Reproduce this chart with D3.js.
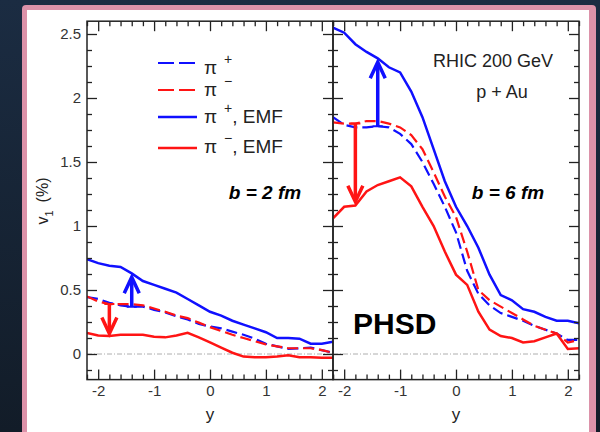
<!DOCTYPE html>
<html>
<head>
<meta charset="utf-8">
<script src="https://cdn.jsdelivr.net/npm/d3@7"></script>
<style>
  body { margin: 0; background: #16222f; }
  svg { display: block; font-family: "Liberation Sans", Arial, sans-serif; }
</style>
</head>
<body>
<div id="chart"></div>
<script>
// rapidity bins (y)
const rapidity = [-2.2, -2.0, -1.8, -1.6, -1.4, -1.2, -1.0, -0.8, -0.6, -0.4, -0.2, 0.0,
                  0.2, 0.4, 0.6, 0.8, 1.0, 1.2, 1.4, 1.6, 1.8, 2.0, 2.2];

// v1 (%) for b = 2 fm
const b2PiPlus     = [0.445, 0.43, 0.40, 0.38, 0.37, 0.37, 0.345, 0.325, 0.295, 0.27, 0.235, 0.215,
                      0.20, 0.175, 0.15, 0.12, 0.08, 0.06, 0.04, 0.045, 0.05, 0.03, 0.01];
const b2PiMinus    = [0.45, 0.41, 0.39, 0.39, 0.39, 0.38, 0.355, 0.33, 0.30, 0.28, 0.245, 0.21,
                      0.18, 0.15, 0.125, 0.10, 0.075, 0.06, 0.045, 0.045, 0.045, 0.03, 0.01];
const b2PiPlusEMF  = [0.74, 0.71, 0.69, 0.68, 0.63, 0.57, 0.54, 0.51, 0.48, 0.43, 0.38, 0.33,
                      0.30, 0.26, 0.23, 0.20, 0.17, 0.125, 0.125, 0.12, 0.08, 0.08, 0.095];
const b2PiMinusEMF = [0.165, 0.145, 0.14, 0.15, 0.15, 0.15, 0.135, 0.13, 0.145, 0.165, 0.13, 0.09,
                      0.05, 0.01, -0.02, -0.025, -0.025, -0.02, -0.01, -0.025, -0.025, -0.03, -0.03];

// v1 (%) for b = 6 fm
const b6PiPlus     = [1.85, 1.79, 1.77, 1.77, 1.78, 1.77, 1.72, 1.64, 1.50, 1.33, 1.15, 0.95,
                      0.65, 0.47, 0.38, 0.32, 0.29, 0.26, 0.22, 0.19, 0.16, 0.11, 0.11];
const b6PiMinus    = [1.81, 1.80, 1.80, 1.82, 1.82, 1.80, 1.77, 1.71, 1.60, 1.42, 1.23, 1.07,
                      0.80, 0.50, 0.42, 0.37, 0.32, 0.27, 0.22, 0.19, 0.16, 0.09, 0.11];
const b6PiPlusEMF  = [2.55, 2.51, 2.42, 2.36, 2.31, 2.24, 2.20, 2.05, 1.85, 1.60, 1.35, 1.15,
                      1.00, 0.83, 0.62, 0.46, 0.42, 0.35, 0.33, 0.29, 0.26, 0.26, 0.24];
const b6PiMinusEMF = [1.06, 1.15, 1.16, 1.27, 1.32, 1.35, 1.38, 1.31, 1.15, 1.00, 0.80, 0.62,
                      0.54, 0.33, 0.19, 0.14, 0.125, 0.09, 0.10, 0.13, 0.16, 0.04, 0.045];

// arrows: rapidity, v1 start, v1 end
const b2Arrows = [{charge: "minus", y: -1.8, from: 0.39, to: 0.16},
                  {charge: "plus",  y: -1.4, from: 0.37, to: 0.60}];
const b6Arrows = [{charge: "minus", y: -1.8, from: 1.80, to: 1.19},
                  {charge: "plus",  y: -1.4, from: 1.78, to: 2.28}];

const xTicks = [-2, -1, 0, 1, 2];
const yTicks = [0, 0.5, 1, 1.5, 2, 2.5];
const legendLabels = [
  {sup: "+", emf: false, series: "plus"},
  {sup: "\u2212", emf: false, series: "minus"},
  {sup: "+", emf: true, series: "plus"},
  {sup: "\u2212", emf: true, series: "minus"}
];

const W = 600, H = 432;
const colors = {plus: "#1010ff", minus: "#ff1414"};

const svg = d3.select("#chart").append("svg")
  .attr("width", W).attr("height", H);

// background + frame
const defs = svg.append("defs");
const grad = defs.append("linearGradient").attr("id", "bg").attr("x1", 0).attr("y1", 0).attr("x2", 0).attr("y2", 1);
grad.append("stop").attr("offset", 0).attr("stop-color", "#1b2c42");
grad.append("stop").attr("offset", 1).attr("stop-color", "#121c28");
svg.append("rect").attr("width", W).attr("height", H).attr("fill", "url(#bg)");
svg.append("rect").attr("x", 22).attr("y", 5).attr("width", 574).attr("height", 460)
  .attr("rx", 4).attr("fill", "#dc92a9");
svg.append("rect").attr("x", 27).attr("y", 10).attr("width", 562).attr("height", 450)
  .attr("fill", "#ffffff");

// scales
const plotTop = 21.2, plotBottom = 379.6;
const y = d3.scaleLinear().domain([-0.2, 2.6]).range([plotBottom, plotTop]);
const xLeft = d3.scaleLinear().domain([-2.2, 2.2]).range([87, 333]);
const xRight = d3.scaleLinear().domain([-2.2, 2.2]).range([333, 579]);

const yMinor = d3.range(-0.125, 2.6, 0.125).filter(v => !yTicks.includes(v));
const xMinor = d3.range(-22, 23, 2).map(v => v / 10).filter(v => !Number.isInteger(v));

const panels = [
  {x: xLeft, plus: b2PiPlus, minus: b2PiMinus, plusEMF: b2PiPlusEMF, minusEMF: b2PiMinusEMF,
   arrows: b2Arrows, label: "b = 2 fm", labelX: 265},
  {x: xRight, plus: b6PiPlus, minus: b6PiMinus, plusEMF: b6PiPlusEMF, minusEMF: b6PiMinusEMF,
   arrows: b6Arrows, label: "b = 6 fm", labelX: 508}
];

function styleAxis(g) {
  g.select(".domain").remove();
  g.selectAll("line").attr("stroke", "#222").attr("stroke-width", 1.3);
  g.selectAll("text").attr("fill", "#333").attr("font-size", 15)
    .attr("font-family", "'Liberation Sans', Arial, sans-serif");
}

panels.forEach((p, i) => {
  const x = p.x;
  const [x0, x1] = x.range();
  const clipId = "clip" + i;
  defs.append("clipPath").attr("id", clipId)
    .append("rect").attr("x", x0).attr("y", plotTop).attr("width", x1 - x0).attr("height", plotBottom - plotTop);

  // zero line
  svg.append("line")
    .attr("x1", x0).attr("x2", x1).attr("y1", y(0)).attr("y2", y(0))
    .attr("stroke", "#999").attr("stroke-width", 0.8).attr("stroke-dasharray", "5,2,1,2");

  const g = svg.append("g").attr("clip-path", `url(#${clipId})`);
  const line = d3.line().x((d, j) => x(rapidity[j])).y(d => y(d));

  const series = [
    {data: p.plus, c: colors.plus, dash: "11,5", w: 2.2},
    {data: p.minus, c: colors.minus, dash: "11,5", w: 2.2},
    {data: p.plusEMF, c: colors.plus, dash: null, w: 2.5},
    {data: p.minusEMF, c: colors.minus, dash: null, w: 2.5}
  ];
  g.selectAll("path.series").data(series).join("path")
    .attr("class", "series")
    .attr("d", d => line(d.data))
    .attr("fill", "none")
    .attr("stroke", d => d.c)
    .attr("stroke-width", d => d.w)
    .attr("stroke-dasharray", d => d.dash);

  // arrows
  p.arrows.forEach(a => {
    const ax = x(a.y), ya = y(a.from), yb = y(a.to);
    const dir = yb > ya ? 1 : -1;
    const c = colors[a.charge];
    g.append("line").attr("x1", ax).attr("x2", ax).attr("y1", ya).attr("y2", yb - dir * 1.5)
      .attr("stroke", c).attr("stroke-width", 3.5);
    g.append("line").attr("x1", ax - 5).attr("x2", ax + 5).attr("y1", ya).attr("y2", ya)
      .attr("stroke", c).attr("stroke-width", 2);
    g.append("polyline")
      .attr("points", `${ax - 7.5},${yb - dir * 16} ${ax},${yb} ${ax + 7.5},${yb - dir * 16}`)
      .attr("fill", "none").attr("stroke", c).attr("stroke-width", 3.5)
      .attr("stroke-linejoin", "miter");
  });

  // frame
  svg.append("rect").attr("x", x0).attr("y", plotTop).attr("width", x1 - x0).attr("height", plotBottom - plotTop)
    .attr("fill", "none").attr("stroke", "#222").attr("stroke-width", 1.5);

  // x axes (bottom / top)
  svg.append("g").attr("transform", `translate(0,${plotBottom})`)
    .call(d3.axisBottom(x).tickValues(xTicks).tickSize(-10).tickPadding(6).tickFormat(d => String(d)))
    .call(styleAxis);
  svg.append("g").attr("transform", `translate(0,${plotBottom})`)
    .call(d3.axisBottom(x).tickValues(xMinor).tickSize(-5).tickFormat(""))
    .call(styleAxis);
  svg.append("g").attr("transform", `translate(0,${plotTop})`)
    .call(d3.axisTop(x).tickValues(xTicks).tickSize(-10).tickFormat(""))
    .call(styleAxis);
  svg.append("g").attr("transform", `translate(0,${plotTop})`)
    .call(d3.axisTop(x).tickValues(xMinor).tickSize(-5).tickFormat(""))
    .call(styleAxis);

  // y axes (left / right, ticks inward)
  svg.append("g").attr("transform", `translate(${x0},0)`)
    .call(d3.axisLeft(y).tickValues(yTicks).tickSize(-10).tickPadding(6)
      .tickFormat(i === 0 ? (d => String(d)) : ""))
    .call(styleAxis);
  svg.append("g").attr("transform", `translate(${x0},0)`)
    .call(d3.axisLeft(y).tickValues(yMinor).tickSize(-5).tickFormat(""))
    .call(styleAxis);
  svg.append("g").attr("transform", `translate(${x1},0)`)
    .call(d3.axisRight(y).tickValues(yTicks).tickSize(-10).tickFormat(""))
    .call(styleAxis);
  svg.append("g").attr("transform", `translate(${x1},0)`)
    .call(d3.axisRight(y).tickValues(yMinor).tickSize(-5).tickFormat(""))
    .call(styleAxis);

  // x title
  svg.append("text").attr("x", x(0)).attr("y", 420).attr("text-anchor", "middle")
    .attr("font-size", 17).attr("fill", "#222").text("y");

  // impact parameter label
  svg.append("text").attr("x", p.labelX).attr("y", 199).attr("text-anchor", "middle")
    .attr("font-size", 19).attr("font-weight", "bold").attr("font-style", "italic")
    .attr("fill", "#000").text(p.label);
});

// y title
const yt = svg.append("text").attr("transform", "translate(48,201) rotate(-90)")
  .attr("text-anchor", "middle").attr("font-size", 16).attr("fill", "#222");
yt.append("tspan").text("v");
yt.append("tspan").attr("font-size", 11).attr("dy", 5).text("1");
yt.append("tspan").attr("dy", -5).attr("dx", 8).text("(%)");

// legend
const legendY = [63, 90, 117, 148];
const legendBase = [74, 96, 123, 153];
legendLabels.forEach((d, i) => {
  svg.append("line").attr("x1", 158).attr("x2", 197).attr("y1", legendY[i]).attr("y2", legendY[i])
    .attr("stroke", colors[d.series]).attr("stroke-width", d.emf ? 2.5 : 2.2)
    .attr("stroke-dasharray", d.emf ? null : "16,5");
  const t = svg.append("text").attr("x", 204).attr("y", legendBase[i])
    .attr("font-size", 19).attr("fill", "#222");
  t.append("tspan").text("\u03c0");
  t.append("tspan").attr("dx", 7).attr("dy", -10).attr("font-size", 14).text(d.sup);
  t.append("tspan").attr("dy", 10).text(d.emf ? ", EMF" : "");
});

// annotations
svg.append("text").attr("x", 493).attr("y", 67).attr("text-anchor", "middle")
  .attr("font-size", 18).attr("fill", "#222").text("RHIC 200 GeV");
svg.append("text").attr("x", 502).attr("y", 98).attr("text-anchor", "middle")
  .attr("font-size", 18).attr("fill", "#222").text("p + Au");
svg.append("text").attr("x", 353).attr("y", 334)
  .attr("font-size", 30).attr("font-weight", "bold").attr("fill", "#000").text("PHSD");
</script>
</body>
</html>
